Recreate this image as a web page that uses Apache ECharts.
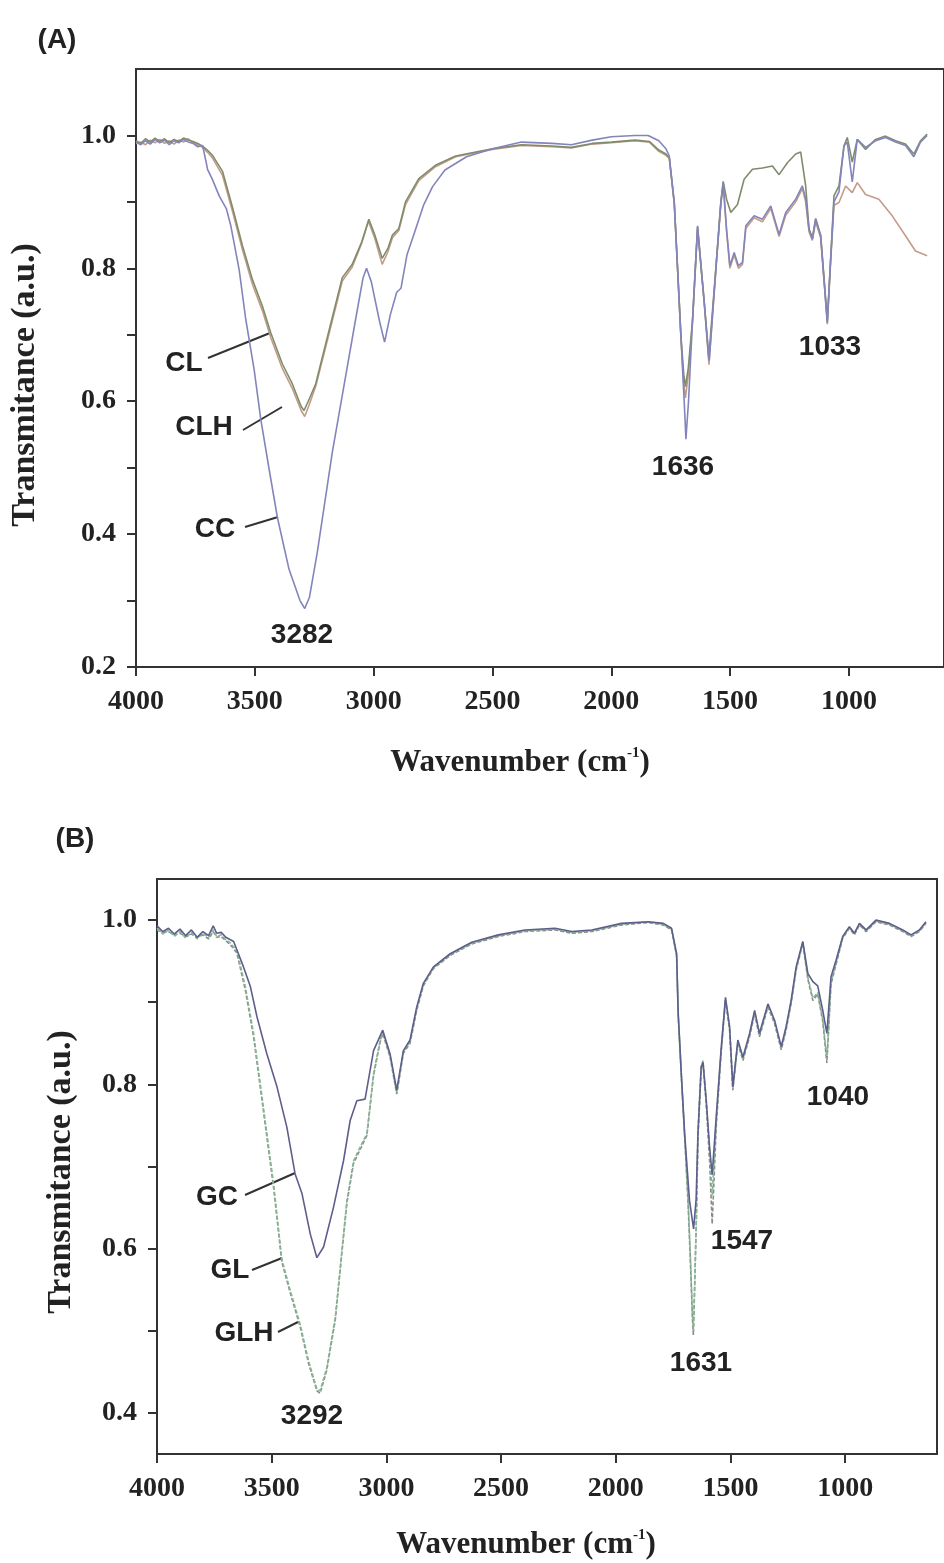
<!DOCTYPE html>
<html>
<head>
<meta charset="utf-8">
<script src="https://cdn.jsdelivr.net/npm/echarts@6/dist/echarts.min.js"></script>
<style>
  html, body { margin: 0; padding: 0; background: #fff; }
  #main { width: 944px; height: 1563px; }
</style>
</head>
<body>
<div id="main"></div>
<script>
// tick positions
const xTicks = [1000, 1500, 2000, 2500, 3000, 3500, 4000];
const yTicksA = [0.2, 0.3, 0.4, 0.5, 0.6, 0.7, 0.8, 0.9, 1.0];
const yLabelsA = [0.2, 0.4, 0.6, 0.8, 1.0];
const yTicksB = [0.4, 0.5, 0.6, 0.7, 0.8, 0.9, 1.0];
const yLabelsB = [0.4, 0.6, 0.8, 1.0];

// panel A spectra [wavenumber, transmitance]
const ccA = [[4000,0.990],[3980,0.986],[3960,0.992],[3940,0.987],[3920,0.994],[3900,0.989],[3880,0.993],[3860,0.986],[3840,0.992],[3820,0.989],[3800,0.994],[3780,0.990],[3760,0.988],[3740,0.983],[3720,0.985],[3705,0.960],[3699,0.949],[3680,0.935],[3650,0.909],[3620,0.890],[3601,0.864],[3566,0.798],[3538,0.723],[3503,0.648],[3475,0.573],[3440,0.498],[3405,0.425],[3356,0.347],[3310,0.300],[3290,0.288],[3270,0.305],[3237,0.373],[3174,0.523],[3125,0.623],[3076,0.723],[3045,0.785],[3030,0.800],[3010,0.780],[2975,0.720],[2954,0.689],[2930,0.730],[2903,0.764],[2885,0.770],[2860,0.820],[2828,0.854],[2790,0.895],[2752,0.923],[2700,0.948],[2609,0.968],[2500,0.980],[2378,0.990],[2250,0.988],[2168,0.986],[2080,0.993],[2000,0.998],[1900,1.000],[1845,1.000],[1800,0.992],[1770,0.980],[1756,0.969],[1735,0.899],[1721,0.799],[1707,0.698],[1693,0.598],[1686,0.543],[1675,0.600],[1658,0.723],[1637,0.864],[1609,0.749],[1588,0.661],[1560,0.799],[1539,0.899],[1529,0.929],[1515,0.859],[1501,0.804],[1483,0.824],[1465,0.804],[1448,0.809],[1434,0.864],[1399,0.879],[1364,0.874],[1329,0.894],[1294,0.851],[1266,0.884],[1224,0.904],[1196,0.924],[1182,0.905],[1168,0.859],[1154,0.844],[1140,0.874],[1119,0.849],[1105,0.784],[1091,0.718],[1077,0.814],[1063,0.900],[1042,0.915],[1021,0.984],[1007,0.990],[986,0.930],[965,0.994],[930,0.982],[888,0.992],[846,0.997],[804,0.990],[762,0.985],[727,0.968],[699,0.990],[671,1.000]];
const clA = [[4000,0.992],[3980,0.988],[3960,0.995],[3940,0.990],[3920,0.996],[3900,0.991],[3880,0.995],[3860,0.989],[3840,0.994],[3820,0.991],[3800,0.996],[3780,0.993],[3760,0.991],[3740,0.988],[3720,0.984],[3700,0.978],[3678,0.970],[3636,0.946],[3594,0.892],[3552,0.834],[3510,0.783],[3468,0.743],[3433,0.703],[3384,0.656],[3342,0.626],[3305,0.592],[3293,0.586],[3275,0.600],[3244,0.626],[3188,0.706],[3132,0.786],[3090,0.806],[3050,0.840],[3020,0.874],[2995,0.850],[2964,0.815],[2940,0.830],[2921,0.850],[2894,0.860],[2866,0.900],[2810,0.935],[2740,0.955],[2655,0.969],[2500,0.980],[2378,0.986],[2250,0.984],[2168,0.982],[2080,0.988],[2000,0.990],[1900,0.993],[1840,0.991],[1800,0.978],[1770,0.972],[1756,0.966],[1735,0.899],[1721,0.799],[1707,0.698],[1695,0.640],[1688,0.622],[1676,0.650],[1658,0.723],[1637,0.862],[1609,0.750],[1590,0.665],[1560,0.800],[1539,0.900],[1529,0.931],[1515,0.904],[1497,0.884],[1469,0.896],[1441,0.934],[1406,0.949],[1364,0.951],[1322,0.954],[1294,0.941],[1259,0.959],[1224,0.972],[1203,0.975],[1182,0.924],[1168,0.859],[1154,0.846],[1140,0.875],[1119,0.850],[1105,0.786],[1091,0.722],[1077,0.814],[1063,0.909],[1042,0.924],[1021,0.984],[1007,0.997],[986,0.960],[965,0.994],[930,0.979],[888,0.994],[846,0.999],[804,0.992],[762,0.987],[727,0.972],[699,0.992],[671,1.002]];
const clhA = [[4000,0.988],[3980,0.990],[3960,0.986],[3940,0.993],[3920,0.989],[3900,0.994],[3880,0.988],[3860,0.992],[3840,0.987],[3820,0.993],[3800,0.990],[3780,0.995],[3760,0.989],[3740,0.986],[3720,0.982],[3700,0.975],[3678,0.966],[3636,0.940],[3594,0.886],[3552,0.828],[3510,0.776],[3468,0.736],[3433,0.696],[3384,0.649],[3342,0.619],[3305,0.586],[3290,0.577],[3272,0.594],[3244,0.622],[3188,0.701],[3132,0.781],[3090,0.802],[3050,0.838],[3022,0.871],[2995,0.845],[2964,0.806],[2940,0.825],[2921,0.846],[2894,0.857],[2866,0.896],[2810,0.932],[2740,0.953],[2655,0.968],[2500,0.979],[2378,0.985],[2250,0.983],[2168,0.981],[2080,0.987],[2000,0.989],[1900,0.992],[1840,0.990],[1800,0.976],[1770,0.970],[1756,0.966],[1735,0.897],[1721,0.797],[1707,0.696],[1695,0.625],[1688,0.605],[1676,0.640],[1658,0.720],[1637,0.860],[1609,0.748],[1589,0.655],[1560,0.797],[1539,0.897],[1529,0.925],[1515,0.856],[1501,0.800],[1483,0.820],[1465,0.800],[1448,0.806],[1434,0.860],[1399,0.876],[1364,0.870],[1329,0.890],[1294,0.848],[1266,0.880],[1224,0.900],[1196,0.920],[1182,0.900],[1168,0.855],[1154,0.842],[1140,0.870],[1119,0.846],[1105,0.782],[1091,0.716],[1077,0.810],[1063,0.895],[1042,0.899],[1014,0.924],[986,0.914],[965,0.929],[930,0.911],[874,0.904],[818,0.879],[762,0.849],[720,0.826],[671,0.819]];

// panel B spectra
const gcB = [[4000,0.993],[3975,0.986],[3950,0.990],[3925,0.983],[3900,0.989],[3875,0.981],[3850,0.988],[3825,0.979],[3800,0.986],[3775,0.981],[3755,0.993],[3740,0.984],[3720,0.985],[3700,0.979],[3680,0.976],[3666,0.974],[3623,0.943],[3593,0.919],[3564,0.882],[3521,0.837],[3477,0.797],[3434,0.748],[3398,0.691],[3368,0.667],[3332,0.618],[3303,0.589],[3274,0.602],[3231,0.650],[3187,0.707],[3158,0.756],[3129,0.780],[3093,0.782],[3056,0.841],[3016,0.866],[2984,0.837],[2955,0.793],[2926,0.841],[2897,0.854],[2868,0.894],[2839,0.923],[2795,0.943],[2722,0.959],[2628,0.973],[2512,0.982],[2396,0.988],[2265,0.990],[2192,0.986],[2105,0.988],[1975,0.996],[1859,0.998],[1793,0.996],[1757,0.990],[1735,0.959],[1728,0.886],[1713,0.805],[1700,0.740],[1679,0.659],[1661,0.624],[1650,0.660],[1642,0.740],[1628,0.821],[1620,0.827],[1606,0.781],[1591,0.722],[1580,0.690],[1562,0.762],[1541,0.843],[1522,0.906],[1504,0.870],[1490,0.797],[1468,0.854],[1446,0.833],[1417,0.862],[1395,0.890],[1374,0.862],[1337,0.898],[1308,0.878],[1279,0.846],[1258,0.870],[1236,0.902],[1214,0.943],[1185,0.974],[1163,0.935],[1141,0.925],[1120,0.920],[1098,0.890],[1080,0.862],[1062,0.931],[1040,0.951],[1011,0.980],[982,0.992],[960,0.984],[938,0.996],[909,0.988],[866,1.000],[807,0.996],[749,0.988],[713,0.982],[677,0.988],[648,0.998]];
const glB = [[4000,0.990],[3975,0.983],[3950,0.988],[3925,0.980],[3900,0.986],[3875,0.978],[3850,0.985],[3825,0.977],[3800,0.984],[3775,0.979],[3755,0.988],[3740,0.980],[3720,0.982],[3700,0.976],[3680,0.972],[3652,0.963],[3615,0.919],[3579,0.862],[3550,0.801],[3521,0.740],[3492,0.679],[3456,0.587],[3419,0.549],[3376,0.508],[3339,0.463],[3303,0.429],[3289,0.427],[3260,0.455],[3223,0.516],[3194,0.598],[3172,0.659],[3143,0.707],[3114,0.724],[3085,0.740],[3056,0.813],[3027,0.854],[3016,0.864],[2984,0.835],[2955,0.790],[2926,0.840],[2897,0.852],[2868,0.892],[2839,0.921],[2795,0.942],[2722,0.958],[2628,0.972],[2512,0.981],[2396,0.987],[2265,0.989],[2192,0.985],[2105,0.987],[1975,0.995],[1859,0.998],[1793,0.995],[1757,0.989],[1735,0.958],[1728,0.885],[1713,0.804],[1700,0.738],[1685,0.660],[1675,0.590],[1666,0.520],[1662,0.500],[1656,0.560],[1648,0.650],[1642,0.740],[1628,0.821],[1620,0.829],[1606,0.780],[1591,0.718],[1580,0.665],[1562,0.758],[1541,0.841],[1522,0.904],[1504,0.868],[1490,0.795],[1468,0.852],[1446,0.831],[1417,0.860],[1395,0.888],[1374,0.860],[1337,0.896],[1308,0.876],[1279,0.844],[1258,0.868],[1236,0.900],[1214,0.941],[1185,0.973],[1163,0.930],[1141,0.905],[1120,0.912],[1098,0.880],[1080,0.830],[1062,0.925],[1040,0.948],[1011,0.979],[982,0.991],[960,0.983],[938,0.995],[909,0.987],[866,0.999],[807,0.995],[749,0.987],[713,0.981],[677,0.987],[648,0.997]];
const glhB = [[4000,0.988],[3975,0.985],[3950,0.986],[3925,0.982],[3900,0.984],[3875,0.980],[3850,0.983],[3825,0.979],[3800,0.982],[3775,0.977],[3755,0.986],[3740,0.979],[3720,0.980],[3700,0.975],[3680,0.970],[3652,0.960],[3615,0.915],[3579,0.858],[3550,0.797],[3521,0.736],[3492,0.675],[3456,0.584],[3419,0.546],[3376,0.505],[3339,0.460],[3303,0.427],[3289,0.424],[3260,0.452],[3223,0.513],[3194,0.595],[3172,0.656],[3143,0.704],[3114,0.721],[3085,0.738],[3056,0.811],[3027,0.852],[3016,0.862],[2984,0.833],[2955,0.788],[2926,0.838],[2897,0.850],[2868,0.890],[2839,0.920],[2795,0.941],[2722,0.957],[2628,0.971],[2512,0.980],[2396,0.986],[2265,0.988],[2192,0.984],[2105,0.986],[1975,0.994],[1859,0.997],[1793,0.994],[1757,0.988],[1735,0.956],[1728,0.883],[1713,0.802],[1700,0.736],[1685,0.655],[1675,0.585],[1666,0.515],[1662,0.495],[1656,0.555],[1648,0.645],[1642,0.735],[1628,0.818],[1620,0.826],[1606,0.776],[1591,0.705],[1580,0.630],[1562,0.750],[1541,0.838],[1522,0.902],[1504,0.866],[1490,0.793],[1468,0.850],[1446,0.829],[1417,0.858],[1395,0.886],[1374,0.858],[1337,0.894],[1308,0.874],[1279,0.842],[1258,0.866],[1236,0.898],[1214,0.939],[1185,0.972],[1163,0.928],[1141,0.902],[1120,0.910],[1098,0.877],[1080,0.826],[1062,0.922],[1040,0.946],[1011,0.978],[982,0.990],[960,0.982],[938,0.994],[909,0.986],[866,0.998],[807,0.994],[749,0.986],[713,0.980],[677,0.986],[648,0.996]];

const serif = '"Liberation Serif", "Times New Roman", serif';
const sans = '"Liberation Sans", Arial, sans-serif';
const ink = '#222';

function xAxisFor(gi) {
  return {
    gridIndex: gi, type: 'value', min: 600, max: 4000, inverse: true,
    axisLine: { show: true, onZero: false, lineStyle: { color: '#333', width: 2 } },
    axisTick: { show: true, inside: false, length: 9, customValues: xTicks, lineStyle: { color: '#333', width: 2 } },
    axisLabel: { customValues: xTicks, fontFamily: serif, fontWeight: 'bold', fontSize: 28, color: ink, margin: 21,
      formatter: v => String(v) },
    splitLine: { show: false }
  };
}
function yAxisFor(gi, min, max, ticks, labels) {
  return {
    gridIndex: gi, type: 'value', min: min, max: max,
    axisLine: { show: true, onZero: false, lineStyle: { color: '#333', width: 2 } },
    axisTick: { show: true, inside: false, length: 9, customValues: ticks, lineStyle: { color: '#333', width: 2 } },
    axisLabel: { customValues: labels, fontFamily: serif, fontWeight: 'bold', fontSize: 28, color: ink, margin: 20,
      formatter: v => v.toFixed(1) },
    splitLine: { show: false }
  };
}
function spectrum(name, data, gi, color, type) {
  return {
    name: name, type: 'line', xAxisIndex: gi, yAxisIndex: gi, data: data,
    showSymbol: false, symbol: 'none', silent: true,
    lineStyle: { color: color, width: 1.6, type: type || 'solid' }
  };
}
function label(text, x, y) {
  return { type: 'text', x: x, y: y, style: { text: text, font: 'bold 28px ' + sans, fill: ink, align: 'center', verticalAlign: 'middle' } };
}
function leader(x1, y1, x2, y2) {
  return { type: 'line', shape: { x1: x1, y1: y1, x2: x2, y2: y2 }, style: { stroke: '#333', lineWidth: 2 } };
}
function xTitle(x, y) {
  return { type: 'text', x: x, y: y, style: {
    text: '{a|Wavenumber (cm}{s|-1}{a|)}', align: 'center', verticalAlign: 'middle',
    rich: { a: { font: 'bold 31px ' + serif, fill: ink, lineHeight: 34 },
            s: { font: 'bold 15px ' + serif, fill: ink, verticalAlign: 'top', lineHeight: 34 } } } };
}
function yTitle(x, y) {
  return { type: 'text', x: x, y: y, rotation: Math.PI / 2, style: {
    text: 'Transmitance (a.u.)', font: 'bold 34px ' + serif, fill: ink, align: 'center', verticalAlign: 'middle' } };
}

const chart = echarts.init(document.getElementById('main'));
chart.setOption({
  animation: false,
  backgroundColor: '#fff',
  grid: [
    { left: 136, top: 69, width: 809, height: 598, show: true, borderColor: '#333', borderWidth: 2 },
    { left: 157, top: 879, width: 780, height: 575, show: true, borderColor: '#333', borderWidth: 2 }
  ],
  xAxis: [xAxisFor(0), xAxisFor(1)],
  yAxis: [yAxisFor(0, 0.2, 1.1, yTicksA, yLabelsA), yAxisFor(1, 0.35, 1.05, yTicksB, yLabelsB)],
  series: [
    spectrum('CLH', clhA, 0, '#c39c88'),
    spectrum('CL', clA, 0, '#7f8c6c'),
    spectrum('CC', ccA, 0, '#8484bc'),
    spectrum('GLH', glhB, 1, '#8a8a8a', [4, 2]),
    spectrum('GL', glB, 1, '#86b896', [4, 2]),
    spectrum('GC', gcB, 1, '#5e5e8c')
  ],
  graphic: [
    label('(A)', 57, 40),
    label('CL', 184, 363), leader(208, 358, 270, 333),
    label('CLH', 204, 427), leader(243, 430, 282, 407),
    label('CC', 215, 529), leader(245, 527, 278, 517),
    label('3282', 302, 635),
    label('1636', 683, 467),
    label('1033', 830, 347),
    xTitle(520, 763),
    yTitle(25, 385),
    label('(B)', 75, 839),
    label('GC', 217, 1197), leader(245, 1195, 295, 1173),
    label('GL', 230, 1270), leader(252, 1270, 282, 1258),
    label('GLH', 244, 1333), leader(278, 1332, 298, 1322),
    label('3292', 312, 1416),
    label('1631', 701, 1363),
    label('1547', 742, 1241),
    label('1040', 838, 1097),
    xTitle(526, 1545),
    yTitle(61, 1172)
  ]
});
</script>
</body>
</html>
